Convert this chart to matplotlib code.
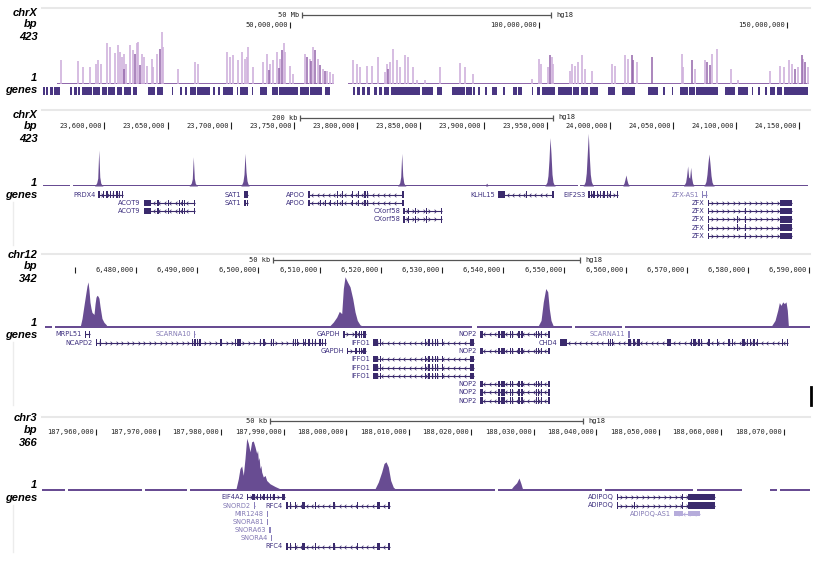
import matplotlib
matplotlib.use("Agg")
import matplotlib.pyplot as plt
import numpy as np
from matplotlib.path import Path
from matplotlib.patches import Rectangle

W, H = 830, 566

# ------------------------------------------------------------------ data
# Panel 1 : chrX overview (hg18), positions in Mb, read-count values
ov_light_pos = [3.9, 7.3, 8.3, 9.8, 10.9, 11.4, 11.9, 13.1, 13.8, 14.8, 15.3, 15.7, 16.1, 16.6, 17.1,
                17.8, 18.5, 19.2, 19.5, 20.2, 20.6, 21.2, 22.2, 22.5, 23.2, 24.2, 24.5, 27.5, 30.9,
                31.5, 37.3, 37.9, 38.6, 39.6, 40.3, 40.9, 41.3, 41.6, 42.6, 44.6, 45.3, 46.0, 46.6,
                47.3, 48.0, 48.7, 49.0, 50.0, 50.7, 53.0, 54.0, 54.7, 55.7, 56.7, 57.4, 58.0, 58.7,
                62.7, 63.4, 64.1, 65.4, 66.4, 67.8, 69.1, 69.5, 70.1, 70.8, 71.5, 72.1, 73.1, 73.8,
                74.8, 75.5, 77.2, 80.2, 84.2, 85.2, 86.9, 98.6, 100.0, 100.5, 102.0, 102.7, 103.0,
                106.3, 106.8, 107.3, 108.0, 108.8, 109.4, 110.7, 114.7, 115.4, 117.3, 118.1, 119.8,
                128.8, 129.1, 131.4, 133.4, 134.9, 135.9, 138.7, 140.2, 146.6, 148.6, 149.3, 150.3,
                150.9, 152.3, 153.3, 154.3]
ov_light_val = [193, 181, 133, 138, 155, 187, 160, 323, 295, 247, 307, 255, 214, 241, 160,
                307, 268, 323, 331, 241, 214, 146, 201, 133, 236, 417, 295, 119, 173,
                160, 255, 214, 228, 187, 255, 201, 214, 295, 133, 173, 241, 160, 187,
                255, 201, 323, 255, 146, 79, 241, 201, 295, 201, 119, 106, 92, 79,
                187, 160, 133, 146, 146, 214, 92, 160, 173, 282, 187, 133, 230, 214,
                133, 27, 27, 133, 165, 138, 79, 38, 201, 160, 133, 214, 160,
                106, 160, 146, 173, 228, 119, 106, 155, 146, 228, 201, 173,
                241, 133, 119, 187, 241, 279, 119, 27, 106, 146, 133, 187,
                160, 133, 201, 133]
ov_dark_pos = [16.5, 18.8, 19.9, 23.8, 45.8, 47.8, 48.3, 53.4, 54.3, 55.0, 56.0, 57.0, 69.8,
               102.3, 118.8, 119.1, 122.8, 130.8, 133.8, 134.5, 151.6, 153.0, 153.6]
ov_dark_val = [120, 241, 150, 282, 110, 130, 268, 214, 180, 268, 150, 100, 120,
               228, 228, 187, 214, 187, 173, 150, 120, 228, 173]
ov_base_mb = [(3.1, 58.9), (61.7, 154.4)]
ov_gene_blocks_mb = [(0.36, 0.70), (1.0, 1.4), (1.7, 2.3), (2.6, 3.7), (5.7, 6.1), (6.5, 7.1), (7.4, 7.7),
                     (8.1, 10.1), (10.4, 11.8), (12.1, 13.1), (13.4, 14.8), (15.1, 16.1), (16.5, 18.1),
                     (18.5, 19.2), (21.5, 22.8), (23.2, 24.5), (26.2, 26.5), (27.9, 28.2), (28.9, 29.2),
                     (29.9, 31.0), (31.2, 33.9), (34.6, 34.9), (35.6, 35.9), (36.6, 38.6), (39.3, 39.6),
                     (39.9, 41.6), (42.3, 42.6), (44.0, 45.3), (46.3, 47.5), (47.8, 51.7), (52.0, 53.8),
                     (54.1, 56.4), (57.0, 58.0), (62.7, 63.1), (63.4, 64.1), (64.4, 65.1), (65.4, 66.1),
                     (66.8, 67.5), (67.9, 68.6), (69.0, 70.0), (70.4, 76.2), (76.5, 78.8), (79.5, 80.5),
                     (82.5, 85.2), (85.5, 86.6), (86.9, 87.2), (87.9, 88.2), (89.2, 89.6), (90.6, 91.6),
                     (92.9, 93.3), (94.9, 95.6), (95.9, 96.6), (98.6, 98.9), (99.6, 100.3), (100.6, 103.3),
                     (104.0, 106.7), (107.0, 108.2), (108.6, 109.9), (110.3, 112.0), (114.0, 115.4),
                     (116.7, 119.4), (122.1, 124.1), (125.1, 125.4), (126.8, 127.1), (128.5, 130.0),
                     (130.3, 131.4), (131.7, 136.2), (137.5, 139.5), (140.2, 142.2), (142.9, 143.2),
                     (144.2, 144.6), (145.6, 145.9), (146.6, 147.5), (147.9, 149.0), (149.3, 154.3)]
ov_xlim = (100_600, 154_820_000)
ov_ymax = 423
ov_base_level = 10
ov_ticks = [50_000_000, 100_000_000, 150_000_000]
ov_tick_labels = ["50,000,000", "100,000,000", "150,000,000"]
ov_scale = (50_000_000, "50 Mb")

# Panel 2 : chrX 23.55-24.16 Mb ; peaks as fixedStep wiggle (start, step, values)
x2_xlim = (23_550_700, 24_159_100)
x2_ymax = 423
x2_base_level = 8
x2_ticks = [23_600_000, 23_650_000, 23_700_000, 23_750_000, 23_800_000, 23_850_000,
            23_900_000, 23_950_000, 24_000_000, 24_050_000, 24_100_000, 24_150_000]
x2_tick_labels = ["23,600,000", "23,650,000", "23,700,000", "23,750,000", "23,800,000", "23,850,000",
                  "23,900,000", "23,950,000", "24,000,000", "24,050,000", "24,100,000", "24,150,000"]
x2_scale = (200_000, "200 kb")
x2_base = [(23_551_500, 23_572_900), (23_575_200, 23_974_700), (23_976_300, 24_156_600)]
x2_peaks = [
    (23_592_400, 800, [6, 12, 25, 60, 277, 70, 22, 10, 6]),
    (23_667_200, 800, [6, 12, 22, 55, 225, 60, 20, 10, 6]),
    (23_708_100, 800, [8, 15, 35, 90, 251, 110, 40, 15, 8]),
    (23_832_100, 800, [6, 12, 25, 70, 251, 80, 25, 10, 6]),
    (23_901_700, 800, [10, 22, 10]),
    (23_948_600, 800, [8, 15, 30, 80, 200, 372, 250, 90, 30, 12, 8]),
    (23_978_900, 800, [8, 15, 35, 100, 250, 405, 230, 90, 35, 15, 8]),
    (24_010_300, 800, [8, 20, 50, 85, 45, 18, 8]),
    (24_058_300, 800, [8, 15, 30, 80, 154, 70, 60, 144, 60, 20, 8]),
    (24_074_400, 800, [8, 15, 35, 90, 180, 246, 170, 80, 30, 12, 8]),
]
x2_genes = [
    ("PRDX4", [0], 23_595_250, 23_614_550, "+",
     [23_595_250, 23_598_730, 23_601_580, 23_604_270, 23_606_880, 23_609_490, 23_611_630, 23_613_760], "dark"),
    ("ACOT9", [1, 2], 23_631_400, 23_671_740, "-",
     [(23_631_400, 23_636_700), 23_641_920, 23_650_150, 23_659_090, 23_661_220, 23_663_040, 23_670_950], "dark"),
    ("SAT1", [0], 23_710_740, 23_713_900, "+", [(23_710_740, 23_713_900)], "dark"),
    ("SAT1", [1], 23_710_740, 23_713_900, "+", [(23_710_740, 23_711_700), (23_712_900, 23_713_900)], "dark"),
    ("APOO", [0], 23_761_360, 23_836_510, "-",
     [23_761_360, 23_784_070, 23_788_020, 23_795_930, 23_800_680, 23_805_820, 23_807_800, 23_835_720], "dark"),
    ("APOO", [1], 23_761_360, 23_836_510, "-",
     [23_761_360, 23_770_640, 23_774_600, 23_778_550, 23_784_070, 23_788_020, 23_795_930, 23_800_680,
      23_805_820, 23_807_800, 23_835_720], "dark"),
    ("CXorf58", [2, 3], 23_836_510, 23_866_880, "+",
     [(23_836_510, 23_837_800), 23_840_220, 23_845_530, 23_854_470, 23_866_090], "dark"),
    ("KLHL15", [0], 23_911_650, 23_955_160, "-",
     [(23_911_650, 23_916_950), 23_933_720, 23_954_370], "dark"),
    ("EIF2S3", [0], 23_982_840, 24_006_570, "+",
     [23_982_840, 23_984_740, 23_986_960, 23_989_730, 23_992_100, 23_994_710, 23_997_400, 24_000_010,
      (24_005_300, 24_006_570)], "dark"),
    ("ZFX-AS1", [0], 24_073_020, 24_076_500, "-", [24_073_020, 24_075_710], "gray"),
    ("ZFX", [1], 24_077_290, 24_143_730, "+", [24_077_290, (24_134_480, 24_143_730)], "dark"),
    ("ZFX", [2, 5], 24_077_290, 24_143_730, "+", [24_077_290, 24_106_800, (24_134_480, 24_143_730)], "dark"),
    ("ZFX", [3, 4], 24_077_290, 24_143_730, "+",
     [24_077_290, 24_100_340, 24_106_800, (24_134_480, 24_143_730)], "dark"),
]

# Panel 3 : chr12 6.465-6.590 Mb
c12_xlim = (6_464_640, 6_590_290)
c12_ymax = 342
c12_base_level = 7
c12_ticks = [6_470_000, 6_480_000, 6_490_000, 6_500_000, 6_510_000, 6_520_000,
             6_530_000, 6_540_000, 6_550_000, 6_560_000, 6_570_000, 6_580_000, 6_590_000]
c12_tick_labels = ["", "6,480,000", "6,490,000", "6,500,000", "6,510,000", "6,520,000",
                   "6,530,000", "6,540,000", "6,550,000", "6,560,000", "6,570,000", "6,580,000", "6,590,000"]
c12_scale = (50_000, "50 kb")
c12_base = [(6_465_130, 6_466_270), (6_466_760, 6_534_900), (6_535_720, 6_551_240),
            (6_551_730, 6_559_410), (6_559_900, 6_590_130)]
c12_sig_pos = [6470850, 6471180, 6471500, 6471830, 6471990, 6472160, 6472320, 6472480, 6472650,
               6472810, 6472970, 6473140, 6473300, 6473460, 6473630, 6473790, 6473950, 6474120,
               6474280, 6474440, 6474770, 6475100, 6475430,
               6511200, 6511700, 6512240, 6512800, 6513220, 6513610, 6513880, 6514150, 6514530,
               6514970, 6515410, 6515790, 6516160, 6516600, 6517420,
               6545400, 6545740, 6546180, 6546550, 6546950, 6547270, 6547530, 6547810, 6548190, 6548500,
               6583500, 6583870, 6584410, 6584850, 6585120, 6585390, 6585670, 6585930, 6586210,
               6586420, 6586590, 6586860]
c12_sig_val = [0, 60, 147, 234, 275, 303, 248, 168, 127, 100, 94, 87, 154, 201, 214, 208, 194, 141,
               100, 60, 34, 20, 0,
               0, 13, 36, 69, 107, 92, 259, 337, 304, 270, 192, 103, 47, 18, 0,
               0, 13, 47, 170, 259, 237, 125, 47, 9, 0,
               0, 13, 47, 114, 165, 147, 170, 159, 170, 114, 13, 0]
IFFO1_ex = [(6_518_677, 6_519_592), 6_519_870, 6_527_222, 6_527_761, 6_528_317, 6_528_857, 6_529_134,
            6_529_951, (6_534_576, 6_535_279)]
NOP2_ex = [(6_536_210, 6_536_749), (6_539_150, 6_539_500), (6_539_600, 6_539_900), (6_540_000, 6_540_250),
           (6_541_050, 6_541_300), (6_541_380, 6_541_600), (6_542_420, 6_542_700), (6_542_880, 6_543_000),
           (6_543_100, 6_543_300), (6_545_280, 6_545_450), (6_545_700, 6_545_900), (6_546_150, 6_546_350),
           (6_547_370, 6_547_533)]
c12_genes = [
    ("MRPL51", [0], 6_471_670, 6_472_480, "-", [(6_471_670, 6_471_830), (6_472_320, 6_472_480)], "dark"),
    ("SCARNA10", [0], 6_489_480, 6_489_640, "+", [(6_489_480, 6_489_640)], "gray"),
    ("NCAPD2", [1], 6_473_464, 6_511_046, "+",
     [6473464, 6474118, 6489101, 6489526, 6489918, 6490343, 6493726, 6493889, 6496177, 6496553,
      6496879, 6500262, 6500801, 6502010, 6502337, 6505605, 6505981, 6506259, 6507239, 6507615,
      6508154, 6508710, 6509249, 6509951, 6510344, (6510846, 6511046)], "dark"),
    ("GAPDH", [0], 6_513_873, 6_517_582, "+",
     [6_513_873, (6_515_703, 6_516_063), (6_516_389, 6_516_602), (6_516_765, 6_516_977), (6_517_141, 6_517_582)], "dark"),
    ("GAPDH", [2], 6_514_428, 6_517_582, "+",
     [6_514_428, (6_515_703, 6_516_063), (6_516_389, 6_516_602), (6_516_765, 6_516_977), (6_517_141, 6_517_582)], "dark"),
    ("IFFO1", [1, 3, 4, 5], 6_518_677, 6_535_279, "-", IFFO1_ex, "dark"),
    ("NOP2", [0, 2, 6, 7, 8], 6_536_210, 6_547_533, "-", NOP2_ex, "dark"),
    ("CHD4", [1], 6_549_278, 6_586_588, "-",
     [(6549278, 6550373), 6557076, 6557452, 6557730, 6560444, 6560720, 6561260, 6561816, 6562078,
      6566716, 6566978, 6567256, 6570687, 6571063, 6571341, 6571880, 6572321, 6573514, 6574886,
      6576782, 6577337, 6578971, 6579233, 6579788, 6580328, 6580867, 6581422, 6585507, 6586322], "dark"),
    ("SCARNA11", [0], 6_560_444, 6_560_607, "+", [(6_560_444, 6_560_607)], "gray"),
]

# Panel 4 : chr3 187.95-188.07 Mb
c3_xlim = (187_951_360, 188_074_400)
c3_ymax = 366
c3_base_level = 8
c3_ticks = [187_960_000, 187_970_000, 187_980_000, 187_990_000, 188_000_000, 188_010_000,
            188_020_000, 188_030_000, 188_040_000, 188_050_000, 188_060_000, 188_070_000]
c3_tick_labels = ["187,960,000", "187,970,000", "187,980,000", "187,990,000", "188,000,000", "188,010,000",
                  "188,020,000", "188,030,000", "188,040,000", "188,050,000", "188,060,000", "188,070,000"]
c3_scale = (50_000, "50 kb")
c3_base = [(187_951_040, 187_955_040), (187_955_520, 187_967_360), (187_967_840, 187_974_560),
           (187_975_040, 188_023_840), (188_024_320, 188_040_960), (188_041_440, 188_055_520),
           (188_056_160, 188_063_360), (188_067_840, 188_068_960), (188_069_440, 188_074_240)]
c3_sig_pos = [187982000, 187982400, 187982770, 187983040, 187983310, 187983570, 187983840, 187984110,
              187984370, 187984640, 187984910, 187985170, 187985440, 187985710, 187985850, 187985970,
              187986100, 187986240, 187986380, 187986510, 187986770, 187987050, 187987310, 187987840,
              187988640, 187989440, 187990000,
              188004300, 188004640, 188005170, 188005710, 188006080, 188006400, 188006770, 188007150,
              188007570, 188008000, 188008300,
              188026240, 188026770, 188027310, 188027680, 188028000, 188028210, 188028640]
c3_sig_val = [0, 12, 82, 153, 171, 106, 223, 364, 329, 270, 340, 345, 305, 258, 280, 211, 230, 153,
              175, 129, 94, 105, 70, 47, 28, 12, 0,
              0, 12, 59, 129, 188, 200, 164, 70, 23, 7, 0,
              0, 30, 54, 87, 47, 16, 0]
RFC4_ex = [(187_990_400, 187_990_720), 187_991_040, 187_991_840, 187_992_912, 187_993_168, 187_995_040,
           187_997_968, 188_001_712, 188_004_912, 188_005_168, 188_006_768]
c3_genes = [
    ("EIF4A2", [0], 187_984_112, 187_990_240, "+",
     [187984112, 187984912, 187985168, 187985712, 187986240, 187986768, 187987312, 187987840,
      187988368, (187989712, 187990240)], "dark"),
    ("SNORD2", [1], 187_985_280, 187_985_400, "+", [187_985_280], "gray"),
    ("RFC4", [1, 6], 187_990_400, 188_007_040, "-", RFC4_ex, "dark"),
    ("MIR1248", [2], 187_987_312, 187_987_400, "+", [187_987_312], "gray"),
    ("SNORA81", [3], 187_987_312, 187_987_400, "+", [187_987_312], "gray"),
    ("SNORA63", [4], 187_987_728, 187_987_800, "+", [187_987_728], "gray"),
    ("SNORA4", [5], 187_987_952, 187_988_040, "+", [187_987_952], "gray"),
    ("ADIPOQ", [0], 188_043_312, 188_059_040, "+",
     [188_043_312, 188_053_712, (188_054_768, 188_059_040)], "dark"),
    ("ADIPOQ", [1], 188_043_312, 188_059_040, "+",
     [188_043_312, 188_046_080, 188_053_712, (188_054_768, 188_059_040)], "dark"),
    ("ADIPOQ-AS1", [2], 188_052_480, 188_056_640, "-",
     [(188_052_480, 188_053_968), (188_054_768, 188_056_640)], "light"),
]

# ------------------------------------------------------------------ style
SIG = "#684c92"
OV_LIGHT = "#d0b1dd"
OV_DARK = "#9466ab"
OV_BASE = "#8f68ab"
OV_GENE = "#4a3682"
GENE_COL = {"dark": "#3a2a6c", "gray": "#8a80bb", "light": "#b6acdb"}
LABEL_COL = {"dark": "#3d2f7f", "gray": "#8379b5", "light": "#8379b5"}
TXT = "#222222"
MONO = "DejaVu Sans Mono"
L_PX, R_PX = 42, 811

fig = plt.figure(figsize=(W / 100, H / 100), dpi=100)
fig.patch.set_facecolor("white")

ov = fig.add_axes([0, 0, 1, 1])
ov.set_xlim(0, W)
ov.set_ylim(H, 0)
ov.set_axis_off()


def px_axes(x0, y0, x1, y1):
    ax = fig.add_axes([x0 / W, 1 - y1 / H, (x1 - x0) / W, (y1 - y0) / H])
    ax.set_axis_off()
    return ax


CHEV_R = Path([(-0.5, 1), (0.5, 0), (-0.5, -1)], [Path.MOVETO, Path.LINETO, Path.LINETO])
CHEV_L = Path([(0.5, 1), (-0.5, 0), (0.5, -1)], [Path.MOVETO, Path.LINETO, Path.LINETO])


def draw_ruler(top, bottom, xlim, ticks, labels, tick_y, bar_y, scale):
    rax = px_axes(L_PX, top, R_PX, bottom)
    rax.set_xlim(*xlim)
    rax.set_ylim(bottom, top)
    rax.vlines(ticks, tick_y - 5.5, tick_y + 0.8, color=TXT, lw=0.8)
    for t, lab in zip(ticks, labels):
        if lab:
            rax.annotate(lab, (t, tick_y), xytext=(-1.5, 0), textcoords="offset points",
                         ha="right", va="baseline", fontsize=5, family=MONO, color=TXT)
    length, lab = scale
    c = (xlim[0] + xlim[1]) / 2
    x0, x1 = c - length / 2, c + length / 2
    rax.hlines(bar_y, x0, x1, color="#555555", lw=0.9)
    rax.vlines([x0, x1], bar_y - 3, bar_y + 3, color="#555555", lw=0.9)
    rax.annotate(lab, (x0, bar_y + 1.8), xytext=(-2, 0), textcoords="offset points",
                 ha="right", va="baseline", fontsize=5, family=MONO, color=TXT)
    rax.annotate("hg18", (x1, bar_y + 1.8), xytext=(4, 0), textcoords="offset points",
                 ha="left", va="baseline", fontsize=5, family=MONO, color=TXT)


def draw_genes(top, nrows, spacing, xlim, genes):
    gax = px_axes(L_PX, top - spacing / 2, R_PX, top - spacing / 2 + nrows * spacing)
    gax.set_xlim(*xlim)
    gax.set_ylim(nrows - 0.5, -0.5)
    bpp = (xlim[1] - xlim[0]) / (R_PX - L_PX)
    for name, rows, start, end, strand, exons, kind in genes:
        col = GENE_COL[kind]
        for r in rows:
            gax.plot([start, end], [r, r], color=col, lw=0.8, solid_capstyle="butt")
            if end - start > 10 * bpp:
                xs = np.arange(start + 4 * bpp, end - 3 * bpp, 5.5 * bpp)
                gax.plot(xs, [r] * len(xs), ls="none", marker=CHEV_R if strand == "+" else CHEV_L,
                         ms=2.6, mew=0.55, mfc="none", mec=col)
            for ex in exons:
                s, e = ex if isinstance(ex, tuple) else (ex, ex)
                w = max(e - s, 1.3 * bpp)
                hh = 0.62 if kind == "light" else 0.78
                gax.add_patch(Rectangle((s, r - hh / 2), w, hh, color=col, lw=0))
            gax.annotate(name, (start, r), xytext=(-2.2, 0), textcoords="offset points",
                         ha="right", va="center", fontsize=4.8, color=LABEL_COL[kind],
                         family="DejaVu Sans")
    return gax


def left_labels(items):
    for s, y in items:
        ov.text(37.5, y, s, ha="right", va="baseline", fontsize=8, fontweight="bold",
                fontstyle="italic", family="Liberation Sans", color="black")


# separators and faint frames
for y in [8.3, 110, 254, 416.5]:
    ov.plot([L_PX, 810], [y, y], color="#e8e8e8", lw=1.5)
for y0, y1 in [(202, 245), (342, 405), (505, 552)]:
    ov.plot([13, 13], [y0, y1], color="#ececec", lw=1.0)
ov.plot([810.5, 810.5], [387, 405], color="black", lw=2.0)

# ------------------------------------------------------------------ panel 1
left_labels([("chrX", 15.7), ("bp", 26.7), ("423", 40), ("1", 80.7), ("genes", 93.3)])
draw_ruler(8, 31, ov_xlim, ov_ticks, ov_tick_labels, 27.3, 15, ov_scale)
a1 = px_axes(L_PX, 31, R_PX, 83.8)
a1.set_xlim(*ov_xlim)
a1.set_ylim(0, ov_ymax)
a1.vlines(np.array(ov_light_pos) * 1e6, 0, ov_light_val, color=OV_LIGHT, lw=1.2)
a1.vlines(np.array(ov_dark_pos) * 1e6, 0, ov_dark_val, color=OV_DARK, lw=1.1)
for s, e in ov_base_mb:
    a1.fill_between([s * 1e6, e * 1e6], 0, ov_base_level, color=OV_BASE, lw=0)
g1 = px_axes(L_PX, 87, R_PX, 95)
g1.set_xlim(*ov_xlim)
g1.set_ylim(0, 1)
g1.broken_barh([(s * 1e6, (e - s) * 1e6) for s, e in ov_gene_blocks_mb], (0, 1), color=OV_GENE, lw=0)

# ------------------------------------------------------------------ panel 2
left_labels([("chrX", 117.7), ("bp", 129), ("423", 141.7), ("1", 186), ("genes", 197.7)])
draw_ruler(110, 131, x2_xlim, x2_ticks, x2_tick_labels, 127.7, 117.7, x2_scale)
a2 = px_axes(L_PX, 131, R_PX, 186)
a2.set_xlim(*x2_xlim)
a2.set_ylim(0, x2_ymax)
for s, e in x2_base:
    a2.fill_between([s, e], 0, x2_base_level, color=SIG, lw=0)
for start, step, vals in x2_peaks:
    pos = start + step * np.arange(len(vals))
    a2.fill_between(pos, 0, vals, color=SIG, lw=0)
draw_genes(194.5, 6, 8.3, x2_xlim, x2_genes)

# ------------------------------------------------------------------ panel 3
left_labels([("chr12", 257.7), ("bp", 269), ("342", 282.3), ("1", 326), ("genes", 337.7)])
draw_ruler(254, 276, c12_xlim, c12_ticks, c12_tick_labels, 272.3, 260, c12_scale)
a3 = px_axes(L_PX, 276, R_PX, 327.5)
a3.set_xlim(*c12_xlim)
a3.set_ylim(0, c12_ymax)
for s, e in c12_base:
    a3.fill_between([s, e], 0, c12_base_level, color=SIG, lw=0)
a3.fill_between(c12_sig_pos, 0, c12_sig_val, color=SIG, lw=0)
draw_genes(334.3, 9, 8.3, c12_xlim, c12_genes)

# ------------------------------------------------------------------ panel 4
left_labels([("chr3", 420.7), ("bp", 433), ("366", 445.7), ("1", 488.3), ("genes", 500.7)])
draw_ruler(416.5, 438, c3_xlim, c3_ticks, c3_tick_labels, 434, 421, c3_scale)
a4 = px_axes(L_PX, 438, R_PX, 490.5)
a4.set_xlim(*c3_xlim)
a4.set_ylim(0, c3_ymax)
for s, e in c3_base:
    a4.fill_between([s, e], 0, c3_base_level, color=SIG, lw=0)
a4.fill_between(c3_sig_pos, 0, c3_sig_val, color=SIG, lw=0)
draw_genes(497.3, 7, 8.2, c3_xlim, c3_genes)

fig.savefig("out.png", dpi=100, facecolor="white")
